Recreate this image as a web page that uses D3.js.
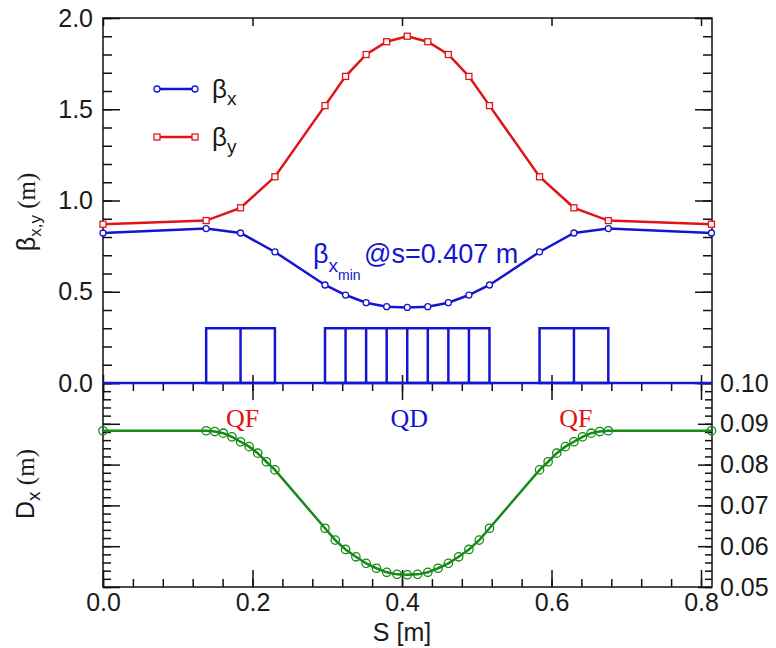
<!DOCTYPE html>
<html>
<head>
<meta charset="utf-8">
<script src="https://cdn.jsdelivr.net/npm/d3@7"></script>
<style>
  body { margin: 0; background: #fff; }
</style>
</head>
<body>
<div id="chart"></div>
<script>
// lattice positions (m) of the beta function markers
const sBeta = [0, 0.138, 0.184, 0.230, 0.297, 0.3245, 0.352, 0.3795, 0.407, 0.4345, 0.462, 0.4895, 0.517, 0.584, 0.630, 0.676, 0.814];
const betaX = [0.822, 0.846, 0.822, 0.718, 0.537, 0.482, 0.440, 0.418, 0.414, 0.418, 0.440, 0.482, 0.537, 0.718, 0.822, 0.846, 0.822];
const betaY = [0.87, 0.89, 0.96, 1.13, 1.52, 1.68, 1.80, 1.87, 1.90, 1.87, 1.80, 1.68, 1.52, 1.13, 0.96, 0.89, 0.87];

// dispersion markers
const sDisp = [0, 0.138, 0.1495, 0.161, 0.1725, 0.184, 0.1955, 0.207, 0.2185, 0.230,
  0.297, 0.3107, 0.3245, 0.3383, 0.352, 0.3658, 0.3795, 0.3933, 0.407, 0.4208, 0.4345, 0.4483, 0.462, 0.4758, 0.4895, 0.5033, 0.517,
  0.584, 0.5955, 0.607, 0.6185, 0.630, 0.6415, 0.653, 0.6645, 0.676, 0.814];
const dispX = [0.0883, 0.0883, 0.0881, 0.0877, 0.0868, 0.0856, 0.0844, 0.0828, 0.0807, 0.0787,
  0.0644, 0.0615, 0.0592, 0.0574, 0.0558, 0.0546, 0.0536, 0.0531, 0.0530, 0.0531, 0.0536, 0.0546, 0.0558, 0.0574, 0.0592, 0.0615, 0.0644,
  0.0787, 0.0807, 0.0828, 0.0844, 0.0856, 0.0868, 0.0877, 0.0881, 0.0883, 0.0883];

// quadrupole slices (edges in m), drawn with height 0.3 in the beta panel
const magnets = [
  { name: "QF", edges: [0.138, 0.184, 0.230] },
  { name: "QD", edges: [0.297, 0.3245, 0.352, 0.3795, 0.407, 0.4345, 0.462, 0.4895, 0.517] },
  { name: "QF", edges: [0.584, 0.630, 0.676] }
];
const magnetHeight = 0.3;
const latticeEnd = 0.8147;

const xTicks = [0, 0.2, 0.4, 0.6, 0.8];
const betaTicks = [0, 0.5, 1.0, 1.5, 2.0];
const dispTicks = [0.05, 0.06, 0.07, 0.08, 0.09, 0.10];

const W = 776, H = 648;
const pLeft = 103, pRight = 712, pTop = 18, pMid = 383, pBottom = 587;
const blue = "#1414d2", red = "#e01414", green = "#178a17";
const sans = "'Liberation Sans', Arial, sans-serif";
const serif = "'Liberation Serif', 'Times New Roman', serif";

const svg = d3.select("#chart").append("svg")
  .attr("width", W).attr("height", H)
  .style("font-family", sans);
svg.append("rect").attr("width", W).attr("height", H).attr("fill", "#fff");

const x = d3.scaleLinear().domain([0, latticeEnd]).range([pLeft, pRight]);
const yB = d3.scaleLinear().domain([0, 2]).range([pMid, pTop]);
const yD = d3.scaleLinear().domain([0.05, 0.10]).range([pBottom, pMid]);

const minorX = d3.range(0, 0.81, 0.04);
const minorB = d3.range(0, 2.001, 0.1);
const minorD = d3.range(0.05, 0.1001, 0.002);

function axisG(axis, tx, ty) {
  const g = svg.append("g").attr("transform", `translate(${tx},${ty})`).call(axis);
  g.select(".domain").remove();
  g.selectAll(".tick line").attr("stroke", "#111").attr("stroke-width", 1.5);
  g.selectAll("text").style("font-size", "25px").attr("fill", "#1a1a1a")
    .style("font-family", sans);
  return g;
}

// top panel: left & right
axisG(d3.axisLeft(yB).tickValues(betaTicks).tickSize(-17).tickPadding(10).tickFormat(d3.format(".1f")), pLeft, 0);
axisG(d3.axisLeft(yB).tickValues(minorB).tickSize(-9).tickFormat(""), pLeft, 0);
axisG(d3.axisRight(yB).tickValues(betaTicks).tickSize(-17).tickFormat(""), pRight, 0);
axisG(d3.axisRight(yB).tickValues(minorB).tickSize(-9).tickFormat(""), pRight, 0);
// top edge
axisG(d3.axisTop(x).tickValues(xTicks).tickSize(-8).tickFormat(""), 0, pTop);
// shared middle axis
axisG(d3.axisBottom(x).tickValues(xTicks).tickSize(-8).tickFormat(""), 0, pMid);
axisG(d3.axisBottom(x).tickValues(xTicks).tickSize(17).tickFormat(""), 0, pMid);
axisG(d3.axisBottom(x).tickValues(minorX).tickSize(8).tickFormat(""), 0, pMid);
// bottom axis
axisG(d3.axisBottom(x).tickValues(xTicks).tickSize(-17).tickPadding(6).tickFormat(d3.format(".1f")), 0, pBottom);
axisG(d3.axisBottom(x).tickValues(minorX).tickSize(-8).tickFormat(""), 0, pBottom);
// bottom panel left & right
axisG(d3.axisLeft(yD).tickValues(dispTicks).tickSize(-17).tickFormat(""), pLeft, 0);
axisG(d3.axisLeft(yD).tickValues(minorD).tickSize(-8).tickFormat(""), pLeft, 0);
axisG(d3.axisRight(yD).tickValues(dispTicks).tickSize(-14).tickPadding(8).tickFormat(d3.format(".2f")), pRight, 0);
axisG(d3.axisRight(yD).tickValues(minorD).tickSize(-7).tickFormat(""), pRight, 0);

// frames
svg.append("rect").attr("x", pLeft).attr("y", pTop).attr("width", pRight - pLeft).attr("height", pBottom - pTop)
  .attr("fill", "none").attr("stroke", "#111").attr("stroke-width", 1.5);
svg.append("line").attr("x1", pLeft).attr("x2", pRight).attr("y1", pMid).attr("y2", pMid)
  .attr("stroke", "#111").attr("stroke-width", 1.5);

// magnets
const mg = svg.append("g").attr("fill", "none").attr("stroke", blue).attr("stroke-width", 2.5);
mg.append("line").attr("x1", x(0)).attr("x2", x(latticeEnd)).attr("y1", yB(0)).attr("y2", yB(0));
magnets.forEach(m => {
  const a = m.edges[0], b = m.edges[m.edges.length - 1];
  mg.append("rect").attr("x", x(a)).attr("y", yB(magnetHeight))
    .attr("width", x(b) - x(a)).attr("height", yB(0) - yB(magnetHeight));
  m.edges.slice(1, -1).forEach(e => {
    mg.append("line").attr("x1", x(e)).attr("x2", x(e)).attr("y1", yB(0)).attr("y2", yB(magnetHeight));
  });
});

// magnet labels
magnets.forEach(m => {
  const c = (m.edges[0] + m.edges[m.edges.length - 1]) / 2;
  svg.append("text").attr("x", x(c) + 2).attr("y", 427).attr("text-anchor", "middle")
    .style("font-family", serif).style("font-size", "26px")
    .attr("fill", m.name === "QF" ? red : blue).text(m.name);
});

// curves
const lineB = d3.line().x(d => x(d[0])).y(d => yB(d[1]));
const lineD = d3.line().x(d => x(d[0])).y(d => yD(d[1]));
const bx = sBeta.map((s, i) => [s, betaX[i]]);
const by = sBeta.map((s, i) => [s, betaY[i]]);
const dx = sDisp.map((s, i) => [s, dispX[i]]);

svg.append("path").datum(by).attr("d", lineB).attr("fill", "none").attr("stroke", red).attr("stroke-width", 2.5);
svg.append("path").datum(bx).attr("d", lineB).attr("fill", "none").attr("stroke", blue).attr("stroke-width", 2.5);
svg.append("path").datum(dx).attr("d", lineD).attr("fill", "none").attr("stroke", green).attr("stroke-width", 2.5);

svg.append("g").selectAll("rect").data(by).join("rect")
  .attr("x", d => x(d[0]) - 3).attr("y", d => yB(d[1]) - 3).attr("width", 6).attr("height", 6)
  .attr("fill", "#fff").attr("stroke", red).attr("stroke-width", 1.3);
svg.append("g").selectAll("circle").data(bx).join("circle")
  .attr("cx", d => x(d[0])).attr("cy", d => yB(d[1])).attr("r", 3)
  .attr("fill", "#fff").attr("stroke", blue).attr("stroke-width", 1.3);
svg.append("g").selectAll("circle").data(dx).join("circle")
  .attr("cx", d => x(d[0])).attr("cy", d => yD(d[1])).attr("r", 4.2)
  .attr("fill", "none").attr("stroke", green).attr("stroke-width", 1.3);

// legend
const legend = [
  { c: red, sub: "y", y: 137, sq: true },
  { c: blue, sub: "x", y: 89, sq: false }
];
legend.forEach(l => {
  svg.append("line").attr("x1", 157).attr("x2", 195).attr("y1", l.y).attr("y2", l.y)
    .attr("stroke", l.c).attr("stroke-width", 2.5);
  [157, 195].forEach(px => {
    if (l.sq) svg.append("rect").attr("x", px - 3).attr("y", l.y - 3).attr("width", 6).attr("height", 6)
      .attr("fill", "#fff").attr("stroke", l.c).attr("stroke-width", 1.3);
    else svg.append("circle").attr("cx", px).attr("cy", l.y).attr("r", 3)
      .attr("fill", "#fff").attr("stroke", l.c).attr("stroke-width", 1.3);
  });
  const t = svg.append("text").attr("x", 212).attr("y", l.y + 9).style("font-size", "26px").attr("fill", "#1a1a1a");
  t.append("tspan").text("β");
  t.append("tspan").style("font-size", "19px").attr("dy", 7).text(l.sub);
});

// annotation
const ann = svg.append("text").attr("x", 313).attr("y", 263).style("font-size", "27px").attr("fill", blue);
ann.append("tspan").text("β");
ann.append("tspan").style("font-size", "19px").attr("dy", 9).text("x");
ann.append("tspan").style("font-size", "14px").attr("dy", 8).text("min");
svg.append("text").attr("x", 364).attr("y", 263).style("font-size", "27px").attr("fill", blue).text("@s=0.407 m");

// axis titles
const t1 = svg.append("text").attr("transform", "translate(35,212) rotate(-90)")
  .attr("text-anchor", "middle").style("font-size", "25px").attr("fill", "#1a1a1a");
t1.append("tspan").text("β");
t1.append("tspan").style("font-size", "17px").attr("dy", 6).text("x,y");
t1.append("tspan").attr("dy", -6).style("font-family", serif).text(" (m)");

const t2 = svg.append("text").attr("transform", "translate(34,484) rotate(-90)")
  .attr("text-anchor", "middle").style("font-size", "25px").attr("fill", "#1a1a1a");
t2.append("tspan").text("D");
t2.append("tspan").style("font-size", "19px").attr("dy", 6).text("x");
t2.append("tspan").attr("dy", -6).style("font-family", serif).text(" (m)");

svg.append("text").attr("x", x(0.4)).attr("y", 641).attr("text-anchor", "middle")
  .style("font-size", "25px").attr("fill", "#1a1a1a").text("S [m]");
</script>
</body>
</html>
